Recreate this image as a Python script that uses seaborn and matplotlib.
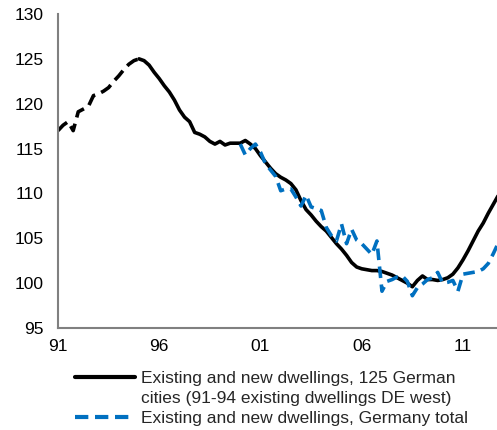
import numpy as np
import pandas as pd
import matplotlib
matplotlib.use("Agg")
import matplotlib.pyplot as plt
from matplotlib.lines import Line2D
import seaborn as sns

# Quarterly index values (1991Q1 .. 2012Q4)
cities_west = [117.0, 117.6, 118.0, 117.0, 119.1, 119.4, 119.7, 120.9,
               121.1, 121.4, 121.8, 122.5, 123.1, 123.8, 124.4, 124.8, 125.0]
cities_total = [125.0, 124.8, 124.3, 123.5, 122.8, 122.0, 121.3, 120.4,
                119.3, 118.5, 118.0, 116.8, 116.6, 116.3, 115.8, 115.5,
                115.8, 115.4, 115.6, 115.6, 115.6, 115.9, 115.5, 115.0,
                114.2, 113.5, 112.8, 112.2, 111.8, 111.5, 111.1, 110.4,
                109.2, 108.2, 107.6, 106.9, 106.3, 105.8, 105.1, 104.4,
                103.8, 103.1, 102.3, 101.8, 101.6, 101.5, 101.4, 101.4,
                101.3, 101.1, 100.9, 100.6, 100.3, 100.0, 99.6, 100.3,
                100.8, 100.4, 100.4, 100.3, 100.4, 100.6, 101.0, 101.7,
                102.6, 103.6, 104.7, 105.8, 106.7, 107.8, 108.8, 109.8]
germany_total = [115.5, 114.3, 115.0, 115.5, 114.6, 113.3, 112.6, 111.9,
                 110.3, 110.5, 110.5, 109.6, 108.6, 109.8, 108.5, 108.3,
                 108.1, 106.2, 105.3, 104.7, 106.6, 104.4, 106.0, 104.8,
                 104.4, 103.8, 103.2, 104.7, 99.1, 100.2, 100.4, 100.7,
                 100.8, 100.2, 98.6, 99.5, 99.9, 100.4, 100.6, 101.2,
                 100.0, 100.1, 100.3, 99.1, 101.0, 101.1, 101.2, 101.3,
                 101.6, 102.2, 103.3, 104.5]

year_west = 1991 + np.arange(len(cities_west)) / 4
year_cities = 1995 + np.arange(len(cities_total)) / 4
year_germany = 2000 + np.arange(len(germany_total)) / 4

tick_years = [1991, 1996, 2001, 2006, 2011]
tick_labels = ["91", "96", "01", "06", "11"]
label_cities = ["Existing and new dwellings, 125 German",
                "cities (91-94 existing dwellings DE west)"]
label_germany = "Existing and new dwellings, Germany total"

sns.set_style("white")
plt.rcParams['font.family'] = ['Liberation Sans', 'DejaVu Sans']

fig = plt.figure(figsize=(4.97, 4.30), dpi=100)
ax = fig.add_axes([58 / 497, 1 - 328 / 430, 1 - 58 / 497, (328 - 14) / 430])

blue = "#0070C0"
sns.lineplot(x=year_west, y=cities_west, ax=ax, color="black", lw=2.6,
             linestyle=(0, (3.4, 1.8)))
sns.lineplot(x=year_cities, y=cities_total, ax=ax, color="black", lw=2.6)
sns.lineplot(x=year_germany, y=germany_total, ax=ax, color=blue, lw=2.6,
             linestyle=(0, (3.2, 1.8)))

ax.set_xlim(1991, 2012.68)
ax.set_ylim(95, 130)
ax.set_yticks(range(95, 131, 5))
ax.set_xticks(tick_years)
ax.set_xticklabels(tick_labels)
ax.tick_params(axis="both", length=0, labelsize=12.5, colors="black")
ax.tick_params(axis="x", pad=8)
ax.tick_params(axis="y", pad=10.5)

for side in ["top", "right"]:
    ax.spines[side].set_visible(False)
for side in ["left", "bottom"]:
    ax.spines[side].set_color("#808080")
    ax.spines[side].set_linewidth(1.5)

# legend: first entry's label wraps onto a second row without its own handle
handles = [Line2D([], [], color="black", lw=3),
           Line2D([], [], color="none"),
           Line2D([], [], color=blue, lw=3, linestyle=(0, (3.2, 1.6)))]
labels = label_cities + [label_germany]
leg = fig.legend(handles, labels, loc="upper left",
                 bbox_to_anchor=(75 / 497, 1 - 371 / 430), frameon=False,
                 fontsize=12.5, handlelength=3.45, handletextpad=0.35,
                 borderpad=0, borderaxespad=0, labelspacing=0.27)

fig.savefig("out.png", dpi=100)
